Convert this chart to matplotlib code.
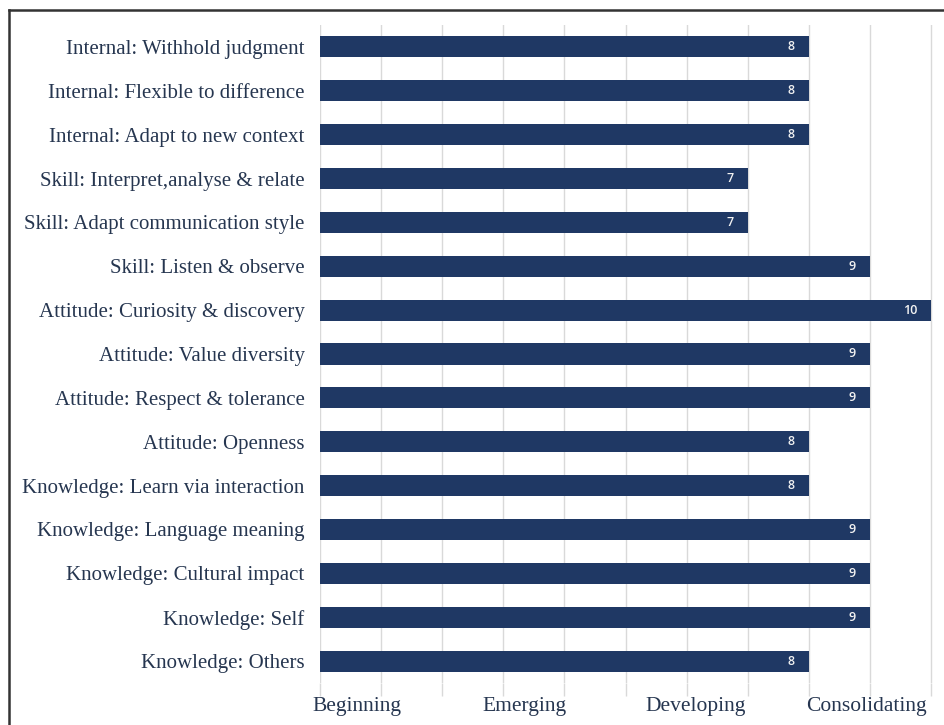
import matplotlib.pyplot as plt
from matplotlib.lines import Line2D

# Data (top to bottom as shown)
labels = [
    "Internal: Withhold judgment",
    "Internal: Flexible to difference",
    "Internal: Adapt to new context",
    "Skill: Interpret,analyse & relate",
    "Skill: Adapt communication style",
    "Skill: Listen & observe",
    "Attitude: Curiosity & discovery",
    "Attitude: Value diversity",
    "Attitude: Respect & tolerance",
    "Attitude: Openness",
    "Knowledge: Learn via interaction",
    "Knowledge: Language meaning",
    "Knowledge: Cultural impact",
    "Knowledge: Self",
    "Knowledge: Others",
]
scores = [8, 8, 8, 7, 7, 9, 10, 9, 9, 8, 8, 9, 9, 9, 8]
stages = ["Beginning", "Emerging", "Developing", "Consolidating"]
stage_pos = [0.6, 3.35, 6.15, 8.95]

bar_color = "#1f3864"
text_color = "#263650"
grid_color = "#d9d9d9"

W, H = 945, 725
fig = plt.figure(figsize=(W / 100, H / 100), dpi=100)
fig.patch.set_facecolor("white")

left, right = 320 / W, 1.0
top, bottom = 1 - 25 / H, 1 - 683 / H
ax = fig.add_axes([left, bottom, right - left, top - bottom])

y = list(range(len(labels)))
ax.barh(y, scores, height=0.48, color=bar_color, zorder=3)
ax.set_ylim(len(labels) - 0.5, -0.5)
ax.set_xlim(0, (W - 320) / 61.1)

for yi, v in zip(y, scores):
    ax.annotate(str(v), xy=(v, yi), xytext=(-10, 0), textcoords="offset points",
                ha="right", va="center", color="#f2f2f2", fontsize=9,
                fontweight="semibold", family="Open Sans", zorder=4)

ax.set_yticks(y)
ax.set_yticklabels(labels, family="Liberation Serif", fontsize=15, color=text_color)
ax.tick_params(axis="y", length=0, pad=11)

ax.set_xticks(range(0, 11))
ax.set_xticklabels([])
ax.tick_params(axis="x", which="major", length=9, color=grid_color, width=1)
ax.set_xticks(stage_pos, minor=True)
ax.set_xticklabels(stages, minor=True, family="Liberation Serif", fontsize=15.5, color=text_color)
ax.tick_params(axis="x", which="minor", length=0, pad=10)

ax.grid(axis="x", color=grid_color, linewidth=1, zorder=0)
ax.set_axisbelow(True)
for s in ax.spines.values():
    s.set_visible(False)

# outer frame (top and left edges visible)
fig.add_artist(Line2D([9 / W, 1.0], [1 - 10 / H, 1 - 10 / H], color="#333333", lw=1.8,
                      transform=fig.transFigure))
fig.add_artist(Line2D([9 / W, 9 / W], [1 - 10 / H, 0], color="#333333", lw=1.8,
                      transform=fig.transFigure))

fig.savefig("out.png", dpi=100)
